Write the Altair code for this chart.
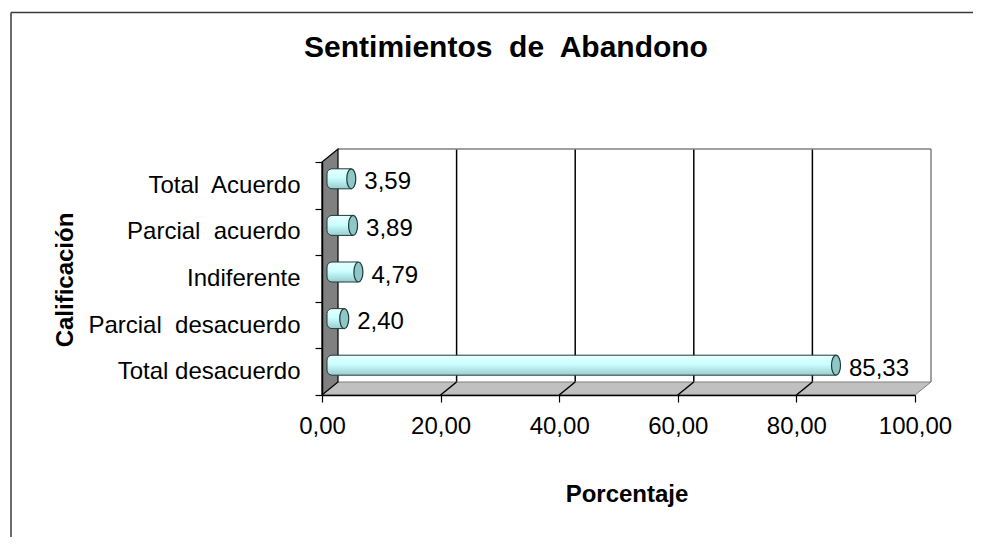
import altair as alt
import pandas as pd

# ---- data ----
CATEGORIES = ["Total\u00a0 Acuerdo", "Parcial\u00a0 acuerdo", "Indiferente",
              "Parcial\u00a0 desacuerdo", "Total desacuerdo"]
VALUES = [3.59, 3.89, 4.79, 2.40, 85.33]
X_TICKS = [0, 20, 40, 60, 80, 100]
TITLE = "Sentimientos\u00a0 de\u00a0 Abandono"
X_TITLE = "Porcentaje"
Y_TITLE = "Calificación"

# ---- geometry / style ----
W, H = 593, 233          # front plane of the plot
DX, DY = 16, 13          # 3-D depth (px)
BAR_DX, BAR_DY = 8, -6.5 # bars sit half way in depth
FONT = "Liberation Sans"
FMT = "replace(format(datum.value, '.2f'), '.', ',')"

df = pd.DataFrame({"cat": CATEGORIES, "v": VALUES})
ticks = pd.DataFrame({"t": X_TICKS})
one = alt.Data(values=[{}])

x_scale = alt.Scale(domain=[0, 100], nice=False, zero=True)
y_scale = alt.Scale(domain=CATEGORIES, paddingInner=0, paddingOuter=0)

x_axis = alt.Axis(values=X_TICKS, labelExpr=FMT, grid=False,
                  domainColor="black", domainWidth=1.5, tickColor="black",
                  tickSize=7, tickWidth=1.2, labelFontSize=24, labelFont=FONT,
                  labelColor="black", labelPadding=31, labelBaseline="alphabetic",
                  labelFlush=False, labelOverlap=False,
                  title=X_TITLE, titleFontSize=24, titleFont=FONT,
                  titleFontWeight="bold", titleColor="black", titleX=304.5, titleY=106,
                  titleBaseline="alphabetic", titleAlign="center", zindex=1)
y_axis = alt.Axis(domainColor="black", domainWidth=1.5, tickColor="black",
                  tickSize=7, tickWidth=1.2, tickBand="extent", grid=False,
                  labelFontSize=24, labelFont=FONT, labelColor="black",
                  labelPadding=15, labelLimit=400, labelAlign="right",
                  title=Y_TITLE, titleFontSize=24, titleFont=FONT,
                  titleFontWeight="bold", titleColor="black", titleX=-249.5, titleY=117.5,
                  titleAngle=270, titleBaseline="alphabetic", titleAlign="center",
                  zindex=1)


def xf(field):
    return alt.X(field, type="quantitative", scale=x_scale, axis=x_axis)


def xd(v):
    return alt.X(datum=v, type="quantitative", scale=x_scale, axis=x_axis)


def yf():
    return alt.Y("cat:N", scale=y_scale, sort=CATEGORIES, axis=y_axis)


# ---- outer frame ----
frame_top = alt.Chart(one).mark_rule(color="#3a3a3a", strokeWidth=1.5).encode(
    x=alt.value(-311), x2=alt.value(W + 120), y=alt.value(-149.5))
frame_left = alt.Chart(one).mark_rule(color="#3a3a3a", strokeWidth=1.5).encode(
    x=alt.value(-311), y=alt.value(-149.5), y2=alt.value(H + 250))

# ---- back plane ----
grid_back = alt.Chart(ticks).transform_filter("datum.t > 0").mark_rule(
    xOffset=DX, strokeWidth=1.5).encode(
    x=xf("t"),
    y=alt.value(-DY), y2=alt.value(H - DY),
    color=alt.condition("datum.t >= 100", alt.value("#808080"), alt.value("#000000")))
back_top = alt.Chart(one).mark_rule(color="#808080", strokeWidth=1.5,
                                    xOffset=DX, x2Offset=DX).encode(
    x=xd(0), x2=alt.X2(datum=100), y=alt.value(-DY))

# ---- floor ----
floor_path = f"M0,0L{W},0L{W + DX},{-DY}L{DX},{-DY}Z"
floor = alt.Chart(one).mark_point(shape=floor_path, size=4, filled=True,
                                  fill="#c0c0c0", stroke="#808080",
                                  strokeWidth=1, opacity=1).encode(
    x=xd(0), y=alt.value(H))
grid_floor = alt.Chart(ticks).transform_filter("datum.t > 0 && datum.t < 100").mark_rule(
    x2Offset=DX, color="black", strokeWidth=1.5).encode(
    x=xf("t"), x2="t:Q",
    y=alt.value(H), y2=alt.value(H - DY))

# ---- left wall ----
wall_path = f"M0,0L0,{-H}L{DX},{-H - DY}L{DX},{-DY}Z"
wall = alt.Chart(one).mark_point(shape=wall_path, size=4, filled=True,
                                 fill="#808080", stroke="#000000",
                                 strokeWidth=1.2, opacity=1).encode(
    x=xd(0), y=alt.value(H))

# ---- bars (cylinders) ----
grad = alt.Gradient(gradient="linear", x1=0, x2=0, y1=0, y2=1,
                    stops=[alt.GradientStop(color="#e8ffff", offset=0),
                           alt.GradientStop(color="#ccffff", offset=0.45),
                           alt.GradientStop(color="#99cccc", offset=1)])
bars = alt.Chart(df).mark_bar(size=20, color=grad, stroke="#1d3b3b", strokeWidth=1,
                              xOffset=BAR_DX, x2Offset=BAR_DX - 3, yOffset=BAR_DY,
                              cornerRadiusTopLeft=5, cornerRadiusBottomLeft=5).encode(
    x=xf("v"), x2=alt.X2(datum=0), y=yf())

ellipse = "M0,-10A4.5,10 0 1,1 0,10A4.5,10 0 1,1 0,-10Z"
caps = alt.Chart(df).mark_point(shape=ellipse, size=4, filled=True, fill="#8fc6c6",
                                stroke="#1d3b3b", strokeWidth=1.2, opacity=1,
                                xOffset=BAR_DX, yOffset=BAR_DY).encode(
    x=xf("v"), y=yf())

labels = alt.Chart(df).transform_calculate(
    lbl="replace(format(datum.v, '.2f'), '.', ',')").mark_text(
    align="left", baseline="middle", dx=21, dy=-3, fontSize=24, font=FONT,
    color="black").encode(
    x=xf("v"), y=yf(), text="lbl:N")

title = alt.Chart(one).mark_text(text=TITLE, fontSize=30, fontWeight="bold", font=FONT,
                                 align="center", baseline="alphabetic",
                                 color="black").encode(
    x=alt.value(184), y=alt.value(-105))

chart = alt.layer(frame_top, frame_left, grid_back, back_top, floor, grid_floor, wall,
                  bars, caps, labels, title).properties(
    width=W, height=H,
    autosize=alt.AutoSizeParams(type="none"),
    padding={"left": 314, "top": 154, "right": 58, "bottom": 142},
    background="white",
).configure_view(stroke=None)

chart.save("out.html", embed_options={"renderer": "svg", "actions": False})
